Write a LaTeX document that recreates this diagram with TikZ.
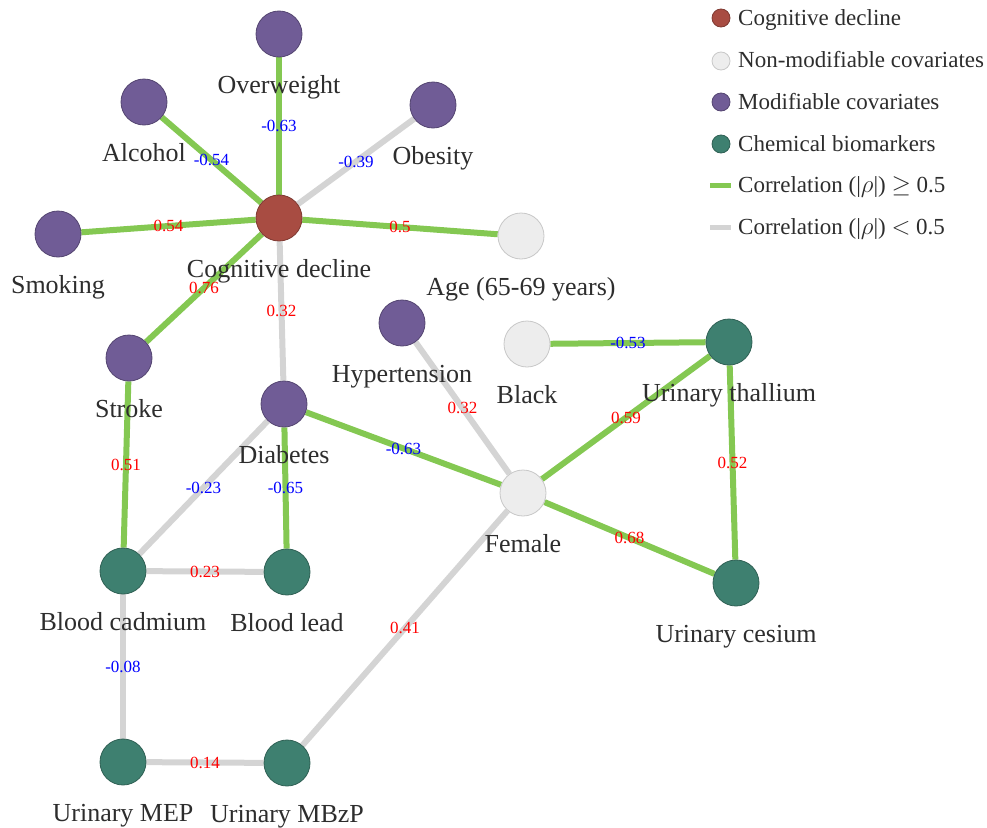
\documentclass[tikz,border=0pt]{standalone}
\usepackage{fontspec}
\setmainfont{Liberation Serif}
\usetikzlibrary{backgrounds}
\definecolor{cogred}{RGB}{168,76,66}
\definecolor{modpurple}{RGB}{112,92,150}
\definecolor{chemgreen}{RGB}{62,128,112}
\definecolor{nonfill}{RGB}{237,237,237}
\definecolor{nondraw}{RGB}{200,200,200}
\definecolor{strongedge}{RGB}{132,200,82}
\definecolor{weakedge}{RGB}{212,212,212}
\definecolor{txtgray}{RGB}{45,45,45}

\begin{document}
\begin{tikzpicture}[x=1pt,y=-1pt,
    var/.style={circle,minimum size=46pt,inner sep=0pt,line width=0.8pt},
    cog/.style={var,fill=cogred,draw=cogred!75!black},
    modif/.style={var,fill=modpurple,draw=modpurple!75!black},
    chem/.style={var,fill=chemgreen,draw=chemgreen!75!black},
    nonmod/.style={var,fill=nonfill,draw=nondraw},
    every label/.style={font=\fontsize{26}{28}\selectfont,text=txtgray,inner sep=0pt,text height=18pt,text depth=3.5pt},
    label distance=18pt,
    strong/.style={draw=strongedge,line width=6pt},
    weak/.style={draw=weakedge,line width=6pt},
    rpos/.style={midway,font=\fontsize{17}{18}\selectfont,text=red,inner sep=0pt},
    rneg/.style={midway,font=\fontsize{17}{18}\selectfont,text=blue,inner sep=0pt},
    legtext/.style={anchor=west,font=\fontsize{23}{25}\selectfont,text=txtgray,inner sep=0pt,text height=16pt,text depth=5pt}]
    \useasboundingbox (0,0) rectangle (987,827);

    % variables
    \node[cog, label=below:Cognitive decline] (cog) at (279,218) {};
    \node[modif, label=below:Overweight] (ow) at (279,34) {};
    \node[modif, label=below:Alcohol] (alc) at (144,102) {};
    \node[modif, label=below:Obesity] (ob) at (433,105) {};
    \node[modif, label=below:Smoking] (smk) at (58,234) {};
    \node[nonmod, label=below:Age (65-69 years)] (age) at (521,236) {};
    \node[modif, label=below:Stroke] (str) at (129,358) {};
    \node[modif, label=below:Hypertension] (hyp) at (402,323) {};
    \node[nonmod, label=below:Black] (blk) at (527,344) {};
    \node[chem, label=below:Urinary thallium] (tl) at (729,342) {};
    \node[modif, label=below:Diabetes] (dia) at (284,404) {};
    \node[nonmod, label=below:Female] (fem) at (523,493) {};
    \node[chem, label=below:Blood cadmium] (cad) at (123,571) {};
    \node[chem, label=below:Blood lead] (pb) at (287,572) {};
    \node[chem, label=below:Urinary cesium] (cs) at (736,583) {};
    \node[chem, label=below:Urinary MEP] (mep) at (123,762) {};
    \node[chem, label=below:Urinary MBzP] (mbzp) at (287,763) {};

    \begin{pgfonlayer}{background}
    \draw[strong] (cog) -- (ow) node[rneg] {-0.63};
    \draw[strong] (cog) -- (alc) node[rneg] {-0.54};
    \draw[weak] (cog) -- (ob) node[rneg] {-0.39};
    \draw[strong] (cog) -- (smk) node[rpos] {0.54};
    \draw[strong] (cog) -- (age) node[rpos] {0.5};
    \draw[strong] (cog) -- (str) node[rpos] {0.76};
    \draw[weak] (cog) -- (dia) node[rpos] {0.32};
    \draw[weak] (hyp) -- (fem) node[rpos] {0.32};
    \draw[strong] (blk) -- (tl) node[rneg] {-0.53};
    \draw[strong] (dia) -- (fem) node[rneg] {-0.63};
    \draw[strong] (fem) -- (tl) node[rpos] {0.59};
    \draw[strong] (fem) -- (cs) node[rpos] {0.68};
    \draw[strong] (tl) -- (cs) node[rpos] {0.52};
    \draw[strong] (str) -- (cad) node[rpos] {0.51};
    \draw[weak] (dia) -- (cad) node[rneg] {-0.23};
    \draw[strong] (dia) -- (pb) node[rneg] {-0.65};
    \draw[weak] (cad) -- (pb) node[rpos] {0.23};
    \draw[weak] (cad) -- (mep) node[rneg] {-0.08};
    \draw[weak] (mep) -- (mbzp) node[rpos] {0.14};
    \draw[weak] (fem) -- (mbzp) node[rpos] {0.41};
    \end{pgfonlayer}

    % legend
    \node[cog, minimum size=18pt] (k1) at (721,18) {};
    \node[legtext] at (738,20) {Cognitive decline};
    \node[nonmod, minimum size=18pt] (k2) at (721,61) {};
    \node[legtext] at (738,62) {Non-modifiable covariates};
    \node[modif, minimum size=18pt] (k3) at (721,102) {};
    \node[legtext] at (738,104) {Modifiable covariates};
    \node[chem, minimum size=18pt] (k4) at (721,144) {};
    \node[legtext] at (738,146) {Chemical biomarkers};
    \coordinate (k5a) at (710,185);
    \coordinate (k5b) at (731,185);
    \draw[strong, line width=5pt] (k5a) -- (k5b);
    \node[legtext] at (738,187) {Correlation (|$\rho$|) $\geq$ 0.5};
    \coordinate (k6a) at (710,227);
    \coordinate (k6b) at (731,227);
    \draw[weak, line width=5pt] (k6a) -- (k6b);
    \node[legtext] at (738,229) {Correlation (|$\rho$|) $<$ 0.5};
\end{tikzpicture}
\end{document}
